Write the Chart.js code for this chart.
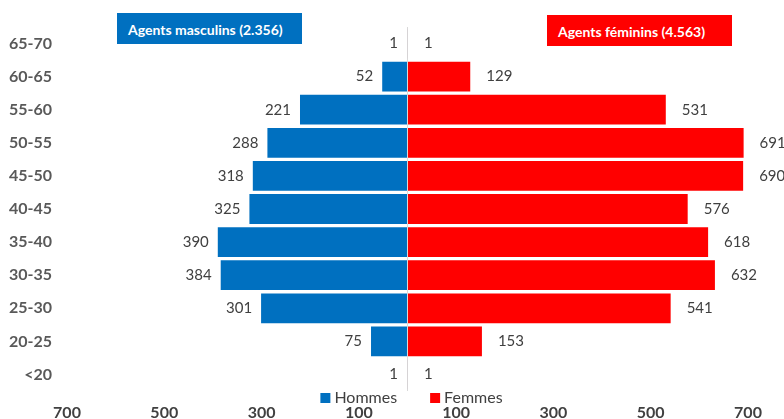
<!DOCTYPE html>
<html>
<head>
<meta charset="utf-8">
<script src="https://cdn.jsdelivr.net/npm/chart.js@4"></script>
<style>
  html, body { margin: 0; padding: 0; background: #fff; overflow: hidden; }
  #wrap { position: relative; width: 784px; height: 419px; }
  .tag {
    position: absolute;
    display: flex;
    align-items: center;
    height: 31px;
    width: 185px;
    padding: 2px 0 0 11px;
    box-sizing: border-box;
    color: #fff;
    font: bold 14px Lato, sans-serif;
    white-space: nowrap;
  }
  #tag-h { left: 117px; top: 13px; background: #0070C0; }
  #tag-f { left: 547px; top: 15px; background: #FF0000; }
</style>
</head>
<body>
<div id="wrap">
  <canvas id="pyramide" width="784" height="419"></canvas>
  <div class="tag" id="tag-h"></div>
  <div class="tag" id="tag-f"></div>
</div>
<script>
const ages = ["65-70", "60-65", "55-60", "50-55", "45-50", "40-45", "35-40", "30-35", "25-30", "20-25", "<20"];
const hommes = [1, 52, 221, 288, 318, 325, 390, 384, 301, 75, 1];
const femmes = [1, 129, 531, 691, 690, 576, 618, 632, 541, 153, 1];
const xTicks = [-700, -500, -300, -100, 0, 100, 300, 500, 700];

const BLUE = "#0070C0";
const RED = "#FF0000";

// totals in the header boxes, thousands separated with a dot
function total(arr) {
  const n = arr.reduce((a, b) => a + b, 0);
  return n.toString().replace(/\B(?=(\d{3})+(?!\d))/g, ".");
}
document.getElementById("tag-h").textContent = "Agents masculins (" + total(hommes) + ")";
document.getElementById("tag-f").textContent = "Agents féminins (" + total(femmes) + ")";

// numbers next to each bar
const valueLabels = {
  id: "valueLabels",
  afterDatasetsDraw(chart) {
    const ctx = chart.ctx;
    ctx.save();
    ctx.font = "15px Lato";
    ctx.fillStyle = "#404040";
    ctx.textBaseline = "middle";
    chart.data.datasets.forEach((ds, i) => {
      chart.getDatasetMeta(i).data.forEach((bar, j) => {
        const v = ds.data[j];
        if (v < 0) {
          ctx.textAlign = "right";
          ctx.fillText(-v, bar.x - 9, bar.y);
        } else {
          ctx.textAlign = "left";
          ctx.fillText(v, bar.x + 16, bar.y);
        }
      });
    });
    ctx.restore();
  },
};

// legend squeezed between the plot and the x ticks
const bottomLegend = {
  id: "bottomLegend",
  afterDraw(chart) {
    const ctx = chart.ctx;
    const box = 10, gap = 4, spacing = 33;
    ctx.save();
    ctx.font = "16px Lato";
    ctx.textBaseline = "middle";
    ctx.textAlign = "left";
    const items = chart.data.datasets.map((ds) => ({
      text: ds.label,
      color: ds.backgroundColor,
      w: ctx.measureText(ds.label).width,
    }));
    let width = 0;
    items.forEach((it, i) => { width += box + gap + it.w + (i ? spacing : 0); });
    const cx = chart.scales.x.getPixelForValue(0) + 4;
    let x = cx - width / 2;
    const y = chart.chartArea.bottom + 7;
    items.forEach((it) => {
      ctx.fillStyle = it.color;
      ctx.fillRect(x, y - box / 2, box, box);
      ctx.fillStyle = "#404040";
      ctx.fillText(it.text, x + box + gap, y);
      x += box + gap + it.w + spacing;
    });
    ctx.restore();
  },
};

new Chart(document.getElementById("pyramide"), {
  type: "bar",
  data: {
    labels: ages,
    datasets: [
      {
        label: "Hommes",
        data: hommes.map((v) => -v),
        backgroundColor: BLUE,
        barPercentage: 0.9,
        categoryPercentage: 1,
      },
      {
        label: "Femmes",
        data: femmes,
        backgroundColor: RED,
        barPercentage: 0.9,
        categoryPercentage: 1,
      },
    ],
  },
  options: {
    indexAxis: "y",
    responsive: false,
    animation: false,
    layout: { padding: { top: 27, right: 36, left: 0, bottom: 0 } },
    plugins: {
      legend: { display: false },
      tooltip: { enabled: false },
    },
    scales: {
      x: {
        min: -700,
        max: 700,
        stacked: true,
        afterBuildTicks: (s) => {
          s.ticks = xTicks.map((v) => ({ value: v }));
        },
        afterFit: (s) => {
          s.height = 28;
        },
        grid: {
          color: (c) => (c.tick && c.tick.value === 0 ? "#D9D9D9" : "rgba(0,0,0,0)"),
          drawTicks: false,
        },
        border: { display: false },
        ticks: {
          padding: 12,
          autoSkip: false,
          maxRotation: 0,
          callback: (v) => (v === 0 ? "" : Math.abs(v)),
          font: { family: "Lato", size: 16, weight: "bold" },
          color: "#404040",
        },
      },
      y: {
        stacked: true,
        afterFit: (s) => {
          s.width = 67;
        },
        grid: { display: false, drawTicks: false },
        border: { display: false },
        ticks: {
          padding: 15,
          font: { family: "Lato", size: 16, weight: "bold" },
          color: "#595959",
        },
      },
    },
  },
  plugins: [valueLabels, bottomLegend],
});
</script>
</body>
</html>
